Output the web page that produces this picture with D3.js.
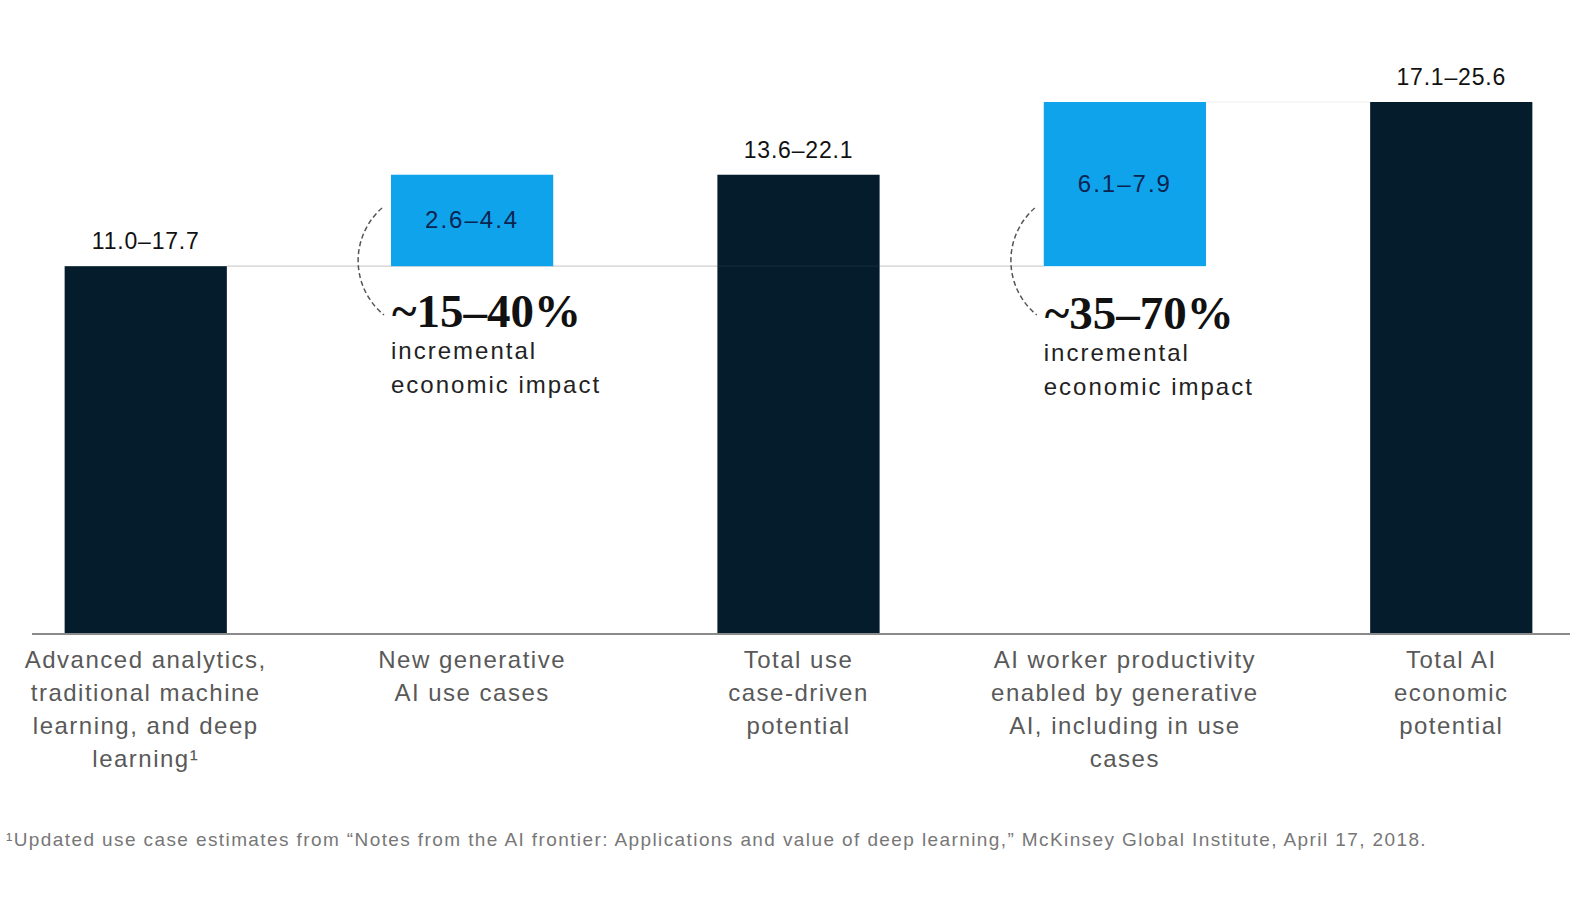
<!DOCTYPE html>
<html>
<head>
<meta charset="utf-8">
<script src="https://cdn.jsdelivr.net/npm/d3@7"></script>
<style>
  html, body { margin: 0; padding: 0; background: #ffffff; }
  svg { display: block; }
</style>
</head>
<body>
<svg id="chart" width="1590" height="900"></svg>
<script>
// ---- data ----
const categories = [
  "Advanced analytics, traditional machine learning, and deep learning",
  "New generative AI use cases",
  "Total use case-driven potential",
  "AI worker productivity enabled by generative AI, including in use cases",
  "Total AI economic potential"
];
const categoryLines = [
  ["Advanced analytics,", "traditional machine", "learning, and deep", "learning\u00B9"],
  ["New generative", "AI use cases"],
  ["Total use", "case-driven", "potential"],
  ["AI worker productivity", "enabled by generative", "AI, including in use", "cases"],
  ["Total AI", "economic", "potential"]
];
const lows  = [11.0, 2.6, 13.6, 6.1, 17.1];
const highs = [17.7, 4.4, 22.1, 7.9, 25.6];
const bases = [0, 17.7, 0, 17.7, 0];          // level each bar starts from
const kinds = ["total", "increment", "total", "increment", "total"];
const annotationPct = ["~15\u201340%", "~35\u201370%"];
const annotationSub = ["incremental", "economic impact"];
const footnote = "\u00B9Updated use case estimates from \u201CNotes from the AI frontier: Applications and value of deep learning,\u201D McKinsey Global Institute, April 17, 2018.";

// ---- layout ----
const svg = d3.select("#chart");
const baseY = 634, topY = 102;
const x = d3.scaleBand().domain(categories).range([32, 1565]).paddingInner(0.503).paddingOuter(0.1);
const y = d3.scaleLinear().domain([0, 25.6]).range([baseY, topY]);

const DARK = "#051c2c", CYAN = "#0fa3ec";
const SANS = "'Liberation Sans', Arial, Helvetica, sans-serif";
const SERIF = "'Liberation Serif', 'Times New Roman', serif";

const rows = categories.map((c, i) => ({
  c, i, low: lows[i], high: highs[i], base: bases[i], kind: kinds[i],
  top: bases[i] + highs[i]
}));

// connector lines
svg.append("line")
  .attr("x1", x(categories[0]) + x.bandwidth()).attr("x2", x(categories[3]))
  .attr("y1", y(highs[0])).attr("y2", y(highs[0]))
  .attr("stroke", "#cfcfcf").attr("stroke-width", 1.2);
svg.append("line")
  .attr("x1", x(categories[3]) + x.bandwidth()).attr("x2", x(categories[4]))
  .attr("y1", y(highs[4])).attr("y2", y(highs[4]))
  .attr("stroke", "#f0f0f0").attr("stroke-width", 1.2);

// bars
svg.selectAll("rect.bar").data(rows).join("rect")
  .attr("class", "bar")
  .attr("x", d => x(d.c))
  .attr("width", x.bandwidth())
  .attr("y", d => y(d.top))
  .attr("height", d => y(d.base) - y(d.top))
  .attr("fill", d => d.kind === "total" ? DARK : CYAN);

// faint connector across the middle dark bar
svg.append("line")
  .attr("x1", x(categories[2])).attr("x2", x(categories[2]) + x.bandwidth())
  .attr("y1", y(highs[0])).attr("y2", y(highs[0]))
  .attr("stroke", "#ffffff").attr("stroke-opacity", 0.06).attr("stroke-width", 1.2);

// axis baseline
svg.append("line")
  .attr("x1", 32).attr("x2", 1570)
  .attr("y1", baseY).attr("y2", baseY)
  .attr("stroke", "#8a8a8a").attr("stroke-width", 2);

// value labels
const fmt = d3.format(".1f");
svg.selectAll("text.val").data(rows.filter(d => d.kind === "total")).join("text")
  .attr("class", "val")
  .attr("x", d => x(d.c) + x.bandwidth() / 2)
  .attr("y", d => y(d.top) - 17)
  .attr("text-anchor", "middle")
  .attr("font-family", SANS).attr("font-size", 23).attr("letter-spacing", 0.8)
  .attr("fill", "#111")
  .text(d => fmt(d.low) + "\u2013" + fmt(d.high));

svg.selectAll("text.inc").data(rows.filter(d => d.kind === "increment")).join("text")
  .attr("class", "inc")
  .attr("x", d => x(d.c) + x.bandwidth() / 2)
  .attr("y", d => (y(d.top) + y(d.base)) / 2 + 8)
  .attr("text-anchor", "middle")
  .attr("font-family", SANS).attr("font-size", 24).attr("letter-spacing", 2)
  .attr("fill", "#0b2550")
  .text(d => fmt(d.low) + "\u2013" + fmt(d.high));

// annotations with dashed brackets
const incRows = rows.filter(d => d.kind === "increment");
incRows.forEach((d, k) => {
  const L = x(d.c);
  const g = svg.append("g");
  g.append("path")
    .attr("d", `M${L - 9},208 A70,70 0 0 0 ${L - 7},315`)
    .attr("fill", "none").attr("stroke", "#555")
    .attr("stroke-width", 1.5).attr("stroke-dasharray", "5 3");
  g.append("text")
    .attr("x", L + 1).attr("y", 327 + k * 2)
    .attr("font-family", SERIF).attr("font-weight", "bold").attr("font-size", 47)
    .attr("fill", "#111")
    .text(annotationPct[k]);
  annotationSub.forEach((s, j) => {
    g.append("text")
      .attr("x", L).attr("y", 359 + k * 2 + j * 34)
      .attr("font-family", SANS).attr("font-size", 24).attr("letter-spacing", 2)
      .attr("fill", "#222")
      .text(s);
  });
});

// category labels
rows.forEach(d => {
  const t = svg.append("text")
    .attr("text-anchor", "middle")
    .attr("font-family", SANS).attr("font-size", 24).attr("letter-spacing", 1.5)
    .attr("fill", "#595959");
  categoryLines[d.i].forEach((line, j) => {
    t.append("tspan")
      .attr("x", x(d.c) + x.bandwidth() / 2)
      .attr("y", 668 + j * 33)
      .text(line);
  });
});

// footnote
svg.append("text")
  .attr("x", 6).attr("y", 846)
  .attr("font-family", SANS).attr("font-size", 19).attr("letter-spacing", 1.4)
  .attr("fill", "#777")
  .text(footnote);
</script>
</body>
</html>
